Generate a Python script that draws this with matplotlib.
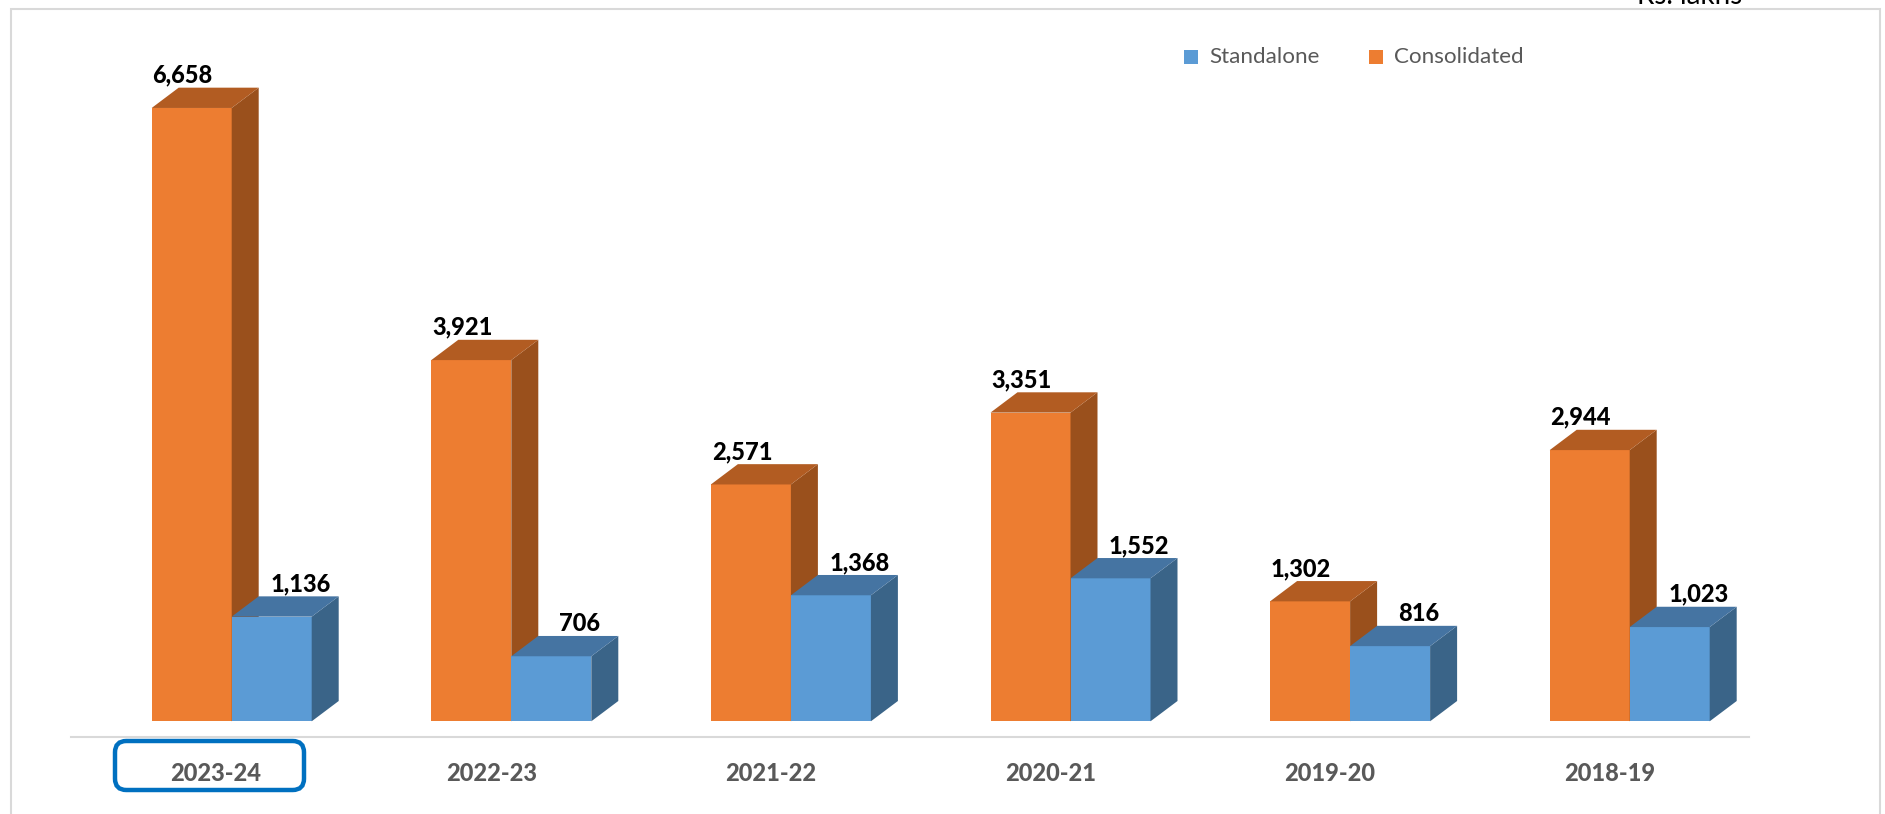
import matplotlib
matplotlib.use("Agg")
import matplotlib.pyplot as plt
from matplotlib.patches import Polygon, FancyBboxPatch, Rectangle
import numpy as np

categories = ["2023-24", "2022-23", "2021-22", "2020-21", "2019-20", "2018-19"]
standalone = [1136, 706, 1368, 1552, 816, 1023]
consolidated = [6658, 3921, 2571, 3351, 1302, 2944]
labels_off = [16, 20, 20, 20, 20, 20]

W, H = 1885, 814
DPI = 100
fig = plt.figure(figsize=(W / DPI, H / DPI), dpi=DPI, facecolor="white")

# pixel geometry
AX_L, AX_R, AX_BOT, BASE, PX_PER_UNIT = 70.5, 1749, 737, 721.3, 0.09212
GROUP0, STEP, BAR_W, DX_PX, DY_PX = 231.7, 279.6, 80, 27, 20.3
AX_TOP = 30
ax = fig.add_axes([AX_L / W, 1 - AX_BOT / H, (AX_R - AX_L) / W, (AX_BOT - AX_TOP) / H])
x = np.arange(len(categories))
ax.set_xlim((AX_L - GROUP0) / STEP, (AX_R - GROUP0) / STEP)
ax.set_ylim(-(AX_BOT - BASE) / PX_PER_UNIT, (BASE - AX_TOP) / PX_PER_UNIT)
bw, dx, dy = BAR_W / STEP, DX_PX / STEP, DY_PX / PX_PER_UNIT

def bar3d(x0, v, front, side, top, z):
    ax.bar(x0, v, width=bw, align="edge", color=front, linewidth=0, zorder=z)
    ax.add_patch(Polygon([(x0 + bw, 0), (x0 + bw + dx, dy), (x0 + bw + dx, v + dy), (x0 + bw, v)],
                         closed=True, fc=side, ec="none", zorder=z))
    ax.add_patch(Polygon([(x0, v), (x0 + dx, v + dy), (x0 + bw + dx, v + dy), (x0 + bw, v)],
                         closed=True, fc=top, ec="none", zorder=z))

FS_VAL = 17
for i in x:
    bar3d(i - bw, consolidated[i], "#ED7D31", "#9A501C", "#B25C22", 2)
    bar3d(i, standalone[i], "#5B9BD5", "#3A6488", "#4574A2", 3)
    ax.annotate(f"{consolidated[i]:,}", (i - bw / 2, consolidated[i]), xytext=(-9 * 0.72, (DY_PX + 5) * 0.72),
                textcoords="offset points", ha="center", va="baseline", fontsize=FS_VAL,
                fontweight=900, family="Lato", color="black", zorder=5)
    ax.annotate(f"{standalone[i]:,}", (i + bw / 2, standalone[i]), xytext=(28.5 * 0.72, (DY_PX + 5) * 0.72),
                textcoords="offset points", ha="center", va="baseline", fontsize=FS_VAL,
                fontweight=900, family="Lato", color="black", zorder=5)

for s in ["top", "left", "right"]:
    ax.spines[s].set_visible(False)
ax.spines["bottom"].set_color("#D9D9D9")
ax.spines["bottom"].set_linewidth(1.5)
ax.set_yticks([])
ax.set_xticks(x - np.array(labels_off) / STEP)
ax.set_xticklabels(categories, fontsize=17, fontweight=900, family="Lato", color="#595959")
ax.tick_params(axis="x", length=0, pad=18)
ax.patch.set_alpha(0)

# frame + highlight, figure-level furniture
fig.add_artist(Rectangle((10.5 / W, -0.02), (1880 - 10.5) / W, 1.02 - 8.5 / H, transform=fig.transFigure,
                         fill=False, ec="#D9D9D9", lw=1.5))
fig.add_artist(FancyBboxPatch((115 / W, 1 - 790 / H), 189 / W, 49 / H,
                              boxstyle="round,pad=0,rounding_size=0.006",
                              mutation_aspect=W / H, transform=fig.transFigure,
                              fill=False, ec="#0070C0", lw=3.2))
# legend
for x0, col, tx, lab in [(1183.5, "#5B9BD5", 1209.5, "Standalone"), (1369, "#ED7D31", 1394, "Consolidated")]:
    fig.add_artist(Rectangle((x0 / W, 1 - 64 / H), 14 / W, 14 / H, transform=fig.transFigure, fc=col, ec="none"))
    fig.text(tx / W, 1 - 57 / H, lab, fontsize=16.1, family="Lato", color="#595959", va="center", ha="left")
fig.text(1637 / W, 1 - 3.5 / H, "Rs. lakhs", fontsize=20, family="Lato", color="black", va="baseline", ha="left")
fig.savefig("out.png", dpi=DPI, facecolor="white")
